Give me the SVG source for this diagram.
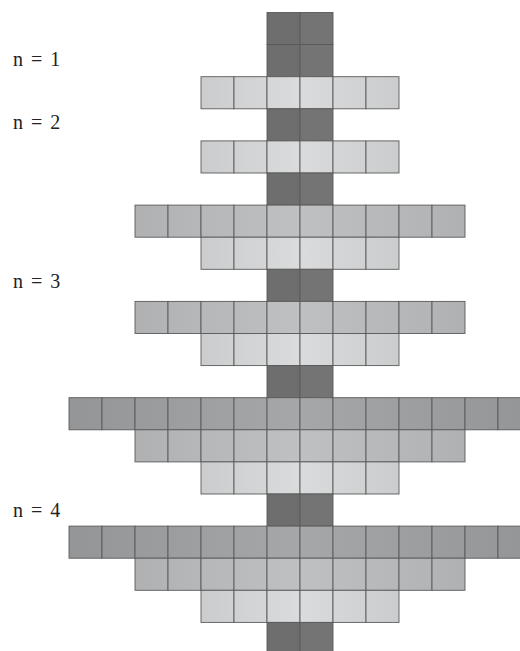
<svg xmlns="http://www.w3.org/2000/svg" xmlns:xlink="http://www.w3.org/1999/xlink" width="520" height="651" viewBox="0 0 520 651">
<style>
rect{stroke:#5a5a5a;stroke-width:0.9}
.t{fill:#6e6e6e}
.t2{fill:#747474}
.d{fill:url(#gd)}
.m{fill:url(#gm)}
.l{fill:url(#gl)}
text{font-family:"Liberation Serif","Times New Roman",serif;font-size:20px;word-spacing:3px;fill:#222}
</style>
<defs>
<linearGradient id="gd" gradientUnits="userSpaceOnUse" x1="69" y1="0" x2="531" y2="0">
<stop offset="0" stop-color="#949597"/><stop offset="0.5" stop-color="#a6a7a9"/><stop offset="1" stop-color="#949597"/>
</linearGradient>
<linearGradient id="gm" gradientUnits="userSpaceOnUse" x1="135" y1="0" x2="465" y2="0">
<stop offset="0" stop-color="#b0b1b3"/><stop offset="0.5" stop-color="#bfc0c2"/><stop offset="1" stop-color="#b0b1b3"/>
</linearGradient>
<linearGradient id="gl" gradientUnits="userSpaceOnUse" x1="201" y1="0" x2="399" y2="0">
<stop offset="0" stop-color="#cbcccd"/><stop offset="0.5" stop-color="#dadbdc"/><stop offset="1" stop-color="#cbcccd"/>
</linearGradient>
<g id="T">
<rect class="t" x="267" y="0" width="33" height="32.1"/><rect class="t2" x="300" y="0" width="33" height="32.1"/>
</g>
<g id="L">
<rect class="l" x="201" y="0" width="33" height="32.1"/><rect class="l" x="234" y="0" width="33" height="32.1"/><rect class="l" x="267" y="0" width="33" height="32.1"/><rect class="l" x="300" y="0" width="33" height="32.1"/><rect class="l" x="333" y="0" width="33" height="32.1"/><rect class="l" x="366" y="0" width="33" height="32.1"/>
</g>
<g id="M">
<rect class="m" x="135" y="0" width="33" height="32.1"/><rect class="m" x="168" y="0" width="33" height="32.1"/><rect class="m" x="201" y="0" width="33" height="32.1"/><rect class="m" x="234" y="0" width="33" height="32.1"/><rect class="m" x="267" y="0" width="33" height="32.1"/><rect class="m" x="300" y="0" width="33" height="32.1"/><rect class="m" x="333" y="0" width="33" height="32.1"/><rect class="m" x="366" y="0" width="33" height="32.1"/><rect class="m" x="399" y="0" width="33" height="32.1"/><rect class="m" x="432" y="0" width="33" height="32.1"/>
</g>
<g id="D">
<rect class="d" x="69" y="0" width="33" height="32.1"/><rect class="d" x="102" y="0" width="33" height="32.1"/><rect class="d" x="135" y="0" width="33" height="32.1"/><rect class="d" x="168" y="0" width="33" height="32.1"/><rect class="d" x="201" y="0" width="33" height="32.1"/><rect class="d" x="234" y="0" width="33" height="32.1"/><rect class="d" x="267" y="0" width="33" height="32.1"/><rect class="d" x="300" y="0" width="33" height="32.1"/><rect class="d" x="333" y="0" width="33" height="32.1"/><rect class="d" x="366" y="0" width="33" height="32.1"/><rect class="d" x="399" y="0" width="33" height="32.1"/><rect class="d" x="432" y="0" width="33" height="32.1"/><rect class="d" x="465" y="0" width="33" height="32.1"/><rect class="d" x="498" y="0" width="33" height="32.1"/>
</g>
</defs>
<rect x="0" y="0" width="520" height="651" fill="#ffffff" style="stroke:none"/>
<g id="rows">
<g id="row0"><use xlink:href="#T" y="12.5"/></g>
<g id="row1"><use xlink:href="#T" y="44.6"/></g>
<g id="row2"><use xlink:href="#L" y="76.7"/></g>
<g id="row3"><use xlink:href="#T" y="108.8"/></g>
<g id="row4"><use xlink:href="#L" y="140.9"/></g>
<g id="row5"><use xlink:href="#T" y="173.0"/></g>
<g id="row6"><use xlink:href="#M" y="205.1"/></g>
<g id="row7"><use xlink:href="#L" y="237.2"/></g>
<g id="row8"><use xlink:href="#T" y="269.3"/></g>
<g id="row9"><use xlink:href="#M" y="301.4"/></g>
<g id="row10"><use xlink:href="#L" y="333.5"/></g>
<g id="row11"><use xlink:href="#T" y="365.6"/></g>
<g id="row12"><use xlink:href="#D" y="397.7"/></g>
<g id="row13"><use xlink:href="#M" y="429.8"/></g>
<g id="row14"><use xlink:href="#L" y="461.9"/></g>
<g id="row15"><use xlink:href="#T" y="494.0"/></g>
<g id="row16"><use xlink:href="#D" y="526.1"/></g>
<g id="row17"><use xlink:href="#M" y="558.2"/></g>
<g id="row18"><use xlink:href="#L" y="590.3"/></g>
<g id="row19"><use xlink:href="#T" y="622.4"/></g>
</g>
<g id="labels">
<text x="13" y="66">n = 1</text>
<text x="13" y="129">n = 2</text>
<text x="13" y="288">n = 3</text>
<text x="13" y="516.5">n = 4</text>
</g>
<g id="connectors"/>
</svg>
